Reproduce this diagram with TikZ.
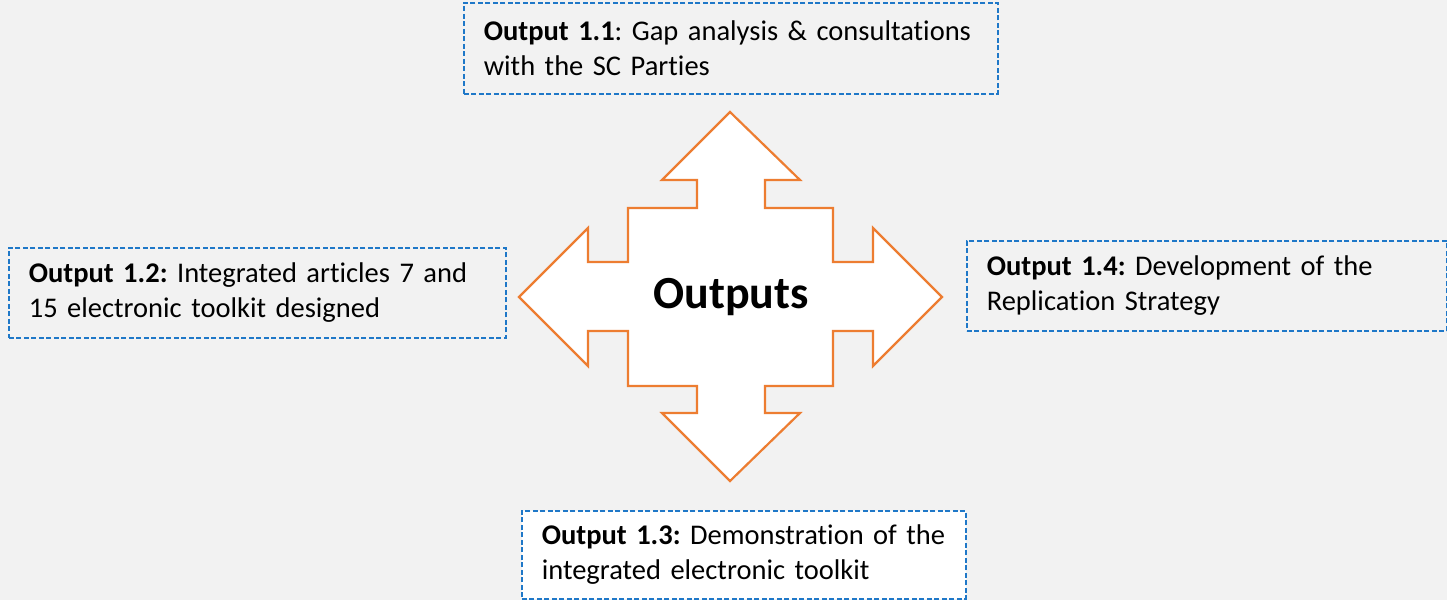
\documentclass[tikz,border=0pt]{standalone}
\usepackage{fontspec}
\setmainfont{Carlito}[Ligatures=NoCommon]
\usetikzlibrary{positioning}
\definecolor{bggray}{HTML}{F2F2F2}
\definecolor{boxblue}{HTML}{1F78C8}
\definecolor{arroworange}{HTML}{ED7D31}
\tikzset{
outbox/.style={draw=boxblue, line width=1.6pt, dash pattern=on 5pt off 2.5pt,
  anchor=north west, align=left, inner xsep=20pt, inner ysep=0pt,
  font=\fontsize{28.5}{35}\selectfont, text width=#1-40pt, minimum width=#1},
crossline/.style={draw=arroworange, fill=white, line width=2.2pt, line join=miter},
}
\frenchspacing
\begin{document}
\begin{tikzpicture}[x=1pt,y=-1pt]
    \fill[bggray] (0,0) rectangle (1447,600);
    \useasboundingbox (0,0) rectangle (1447,600);
    % four-way arrow
    \draw[crossline] (730,112) -- (800,180) -- (765,180) -- (765,208) -- (833,208)
        -- (833,262) -- (873,262) -- (873,228) -- (942,297) -- (873,366) -- (873,331)
        -- (833,331) -- (833,386) -- (765,386) -- (765,413) -- (800,413) -- (730,481)
        -- (662,413) -- (697,413) -- (697,386) -- (628,386) -- (628,331) -- (588,331)
        -- (588,366) -- (519,297) -- (588,228) -- (588,262) -- (628,262) -- (628,208)
        -- (697,208) -- (697,180) -- (662,180) -- cycle;
    \node[font=\fontsize{46}{50}\selectfont\bfseries] (outputs) at (731,297) {Outputs};
    % output boxes
    \node[outbox=534pt, minimum height=91pt] (o11) at (463,2)
        {\textbf{Output 1.1}: Gap analysis \& consultations\\with the SC Parties};
    \node[outbox=497pt, minimum height=90pt] (o12) at (8,247)
        {\textbf{Output 1.2:} Integrated articles 7 and\\15 electronic toolkit designed};
    \node[outbox=444pt, minimum height=88pt, fill=white] (o13) at (521,510)
        {\textbf{Output 1.3:} Demonstration of the\\integrated electronic toolkit};
    \node[outbox=480pt, minimum height=90pt] (o14) at (966,240)
        {\textbf{Output 1.4:} Development of the\\Replication Strategy};
\end{tikzpicture}
\end{document}
